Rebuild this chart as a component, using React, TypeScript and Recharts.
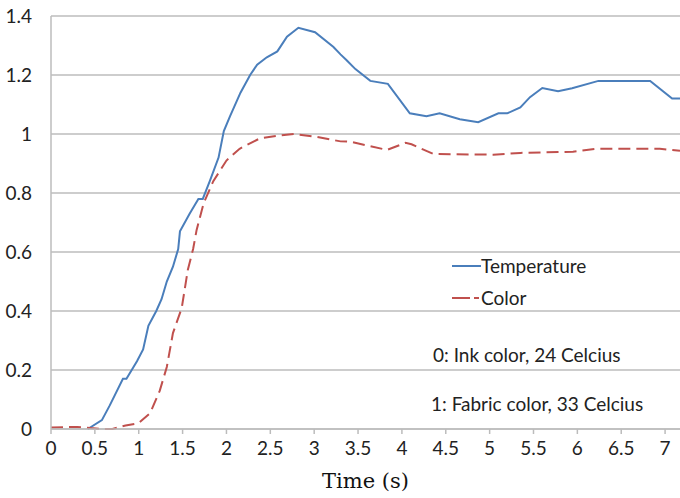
import { LineChart, Line, XAxis, YAxis, CartesianGrid } from "recharts";

// Time (s) / value pairs
const tempTime = [0.42, 0.58, 0.67, 0.82, 0.86, 0.98, 1.05, 1.11, 1.2, 1.26, 1.32, 1.39, 1.45, 1.47, 1.58, 1.68, 1.73, 1.81, 1.91, 1.97, 2.04, 2.16, 2.27, 2.35, 2.46, 2.58, 2.69, 2.82, 3.01, 3.22, 3.3, 3.37, 3.47, 3.64, 3.84, 4.09, 4.28, 4.43, 4.66, 4.87, 5.1, 5.2, 5.35, 5.46, 5.6, 5.78, 5.94, 6.24, 6.83, 7.08, 7.17];
const tempValues = [0, 0.03, 0.08, 0.17, 0.17, 0.23, 0.27, 0.35, 0.4, 0.44, 0.5, 0.55, 0.61, 0.67, 0.73, 0.78, 0.78, 0.84, 0.92, 1.01, 1.06, 1.14, 1.2, 1.235, 1.26, 1.28, 1.33, 1.36, 1.345, 1.295, 1.27, 1.25, 1.22, 1.18, 1.17, 1.07, 1.06, 1.07, 1.05, 1.04, 1.07, 1.07, 1.09, 1.125, 1.156, 1.145, 1.155, 1.18, 1.18, 1.12, 1.12];

const colorTime = [0, 0.3, 0.45, 0.6, 0.7, 0.85, 1.0, 1.13, 1.24, 1.32, 1.39, 1.49, 1.56, 1.62, 1.66, 1.74, 1.85, 2.0, 2.15, 2.38, 2.61, 2.78, 3.03, 3.3, 3.41, 3.83, 4.04, 4.11, 4.36, 5.04, 5.35, 5.95, 6.22, 6.94, 7.17];
const colorValues = [0.005, 0.007, 0.003, 0, 0, 0.012, 0.02, 0.054, 0.13, 0.21, 0.325, 0.41, 0.54, 0.61, 0.675, 0.765, 0.84, 0.91, 0.95, 0.985, 0.995, 1.0, 0.99, 0.975, 0.974, 0.946, 0.97, 0.965, 0.932, 0.93, 0.936, 0.94, 0.95, 0.95, 0.943];

const xTicks = [0, 0.5, 1, 1.5, 2, 2.5, 3, 3.5, 4, 4.5, 5, 5.5, 6, 6.5, 7];
const yTicks = [0, 0.2, 0.4, 0.6, 0.8, 1, 1.2, 1.4];

const tempData = tempTime.map((t, i) => ({ t, v: tempValues[i] }));
const colorData = colorTime.map((t, i) => ({ t, v: colorValues[i] }));

const FONT = "Lato, 'Open Sans', sans-serif";
const GRID = "#bcbcbc";

export default function App() {
  return (
    <div style={{ position: "absolute", left: 0, top: 0, width: 680, height: 498, background: "#fff", fontFamily: FONT }}>
      <LineChart width={680} height={498} margin={{ top: 16, right: 0, left: 0, bottom: 0 }}>
        <CartesianGrid vertical={false} stroke={GRID} strokeWidth={1.5} />
        <XAxis
          type="number"
          dataKey="t"
          domain={[0, 7.17]}
          ticks={xTicks}
          allowDataOverflow
          height={69}
          stroke={GRID}
          strokeWidth={1.5}
          tickSize={5}
          tickMargin={8}
          tick={{ fontSize: 19, fill: "#222", fontFamily: FONT }}
          label={{ value: "Time (s)", position: "insideBottom", offset: 10, style: { fontSize: 21, fill: "#111", fontFamily: "'DejaVu Serif', 'Liberation Serif', serif" } }}
        />
        <YAxis
          type="number"
          domain={[0, 1.4]}
          ticks={yTicks}
          width={51}
          stroke={GRID}
          strokeWidth={1.5}
          tickLine={false}
          tickMargin={13}
          tick={{ fontSize: 19, fill: "#222", fontFamily: FONT }}
        />
        <Line data={tempData} dataKey="v" type="linear" stroke="#4a7ebb" strokeWidth={2} dot={false} isAnimationActive={false} />
        <Line data={colorData} dataKey="v" type="linear" stroke="#c0504d" strokeWidth={2} strokeDasharray="12 6" dot={false} isAnimationActive={false} />
      </LineChart>

      {/* legend inside the plot */}
      <div style={{ position: "absolute", left: 452, top: 254, fontSize: 19, color: "#222", lineHeight: "23px" }}>
        <div style={{ display: "flex", alignItems: "center" }}>
          <svg width={29} height={4}><line x1={0} y1={2} x2={29} y2={2} stroke="#4a7ebb" strokeWidth={2} /></svg>
          <span>Temperature</span>
        </div>
        <div style={{ display: "flex", alignItems: "center", marginTop: 9 }}>
          <svg width={29} height={4}><line x1={0} y1={2} x2={29} y2={2} stroke="#c0504d" strokeWidth={2} strokeDasharray="18 4 5 2" /></svg>
          <span>Color</span>
        </div>
      </div>

      <div style={{ position: "absolute", left: 433, top: 343, fontSize: 19, color: "#222", whiteSpace: "nowrap" }}>0: Ink color, 24 Celcius</div>
      <div style={{ position: "absolute", left: 431, top: 392, fontSize: 19, color: "#222", whiteSpace: "nowrap" }}>1: Fabric color, 33 Celcius</div>
    </div>
  );
}
